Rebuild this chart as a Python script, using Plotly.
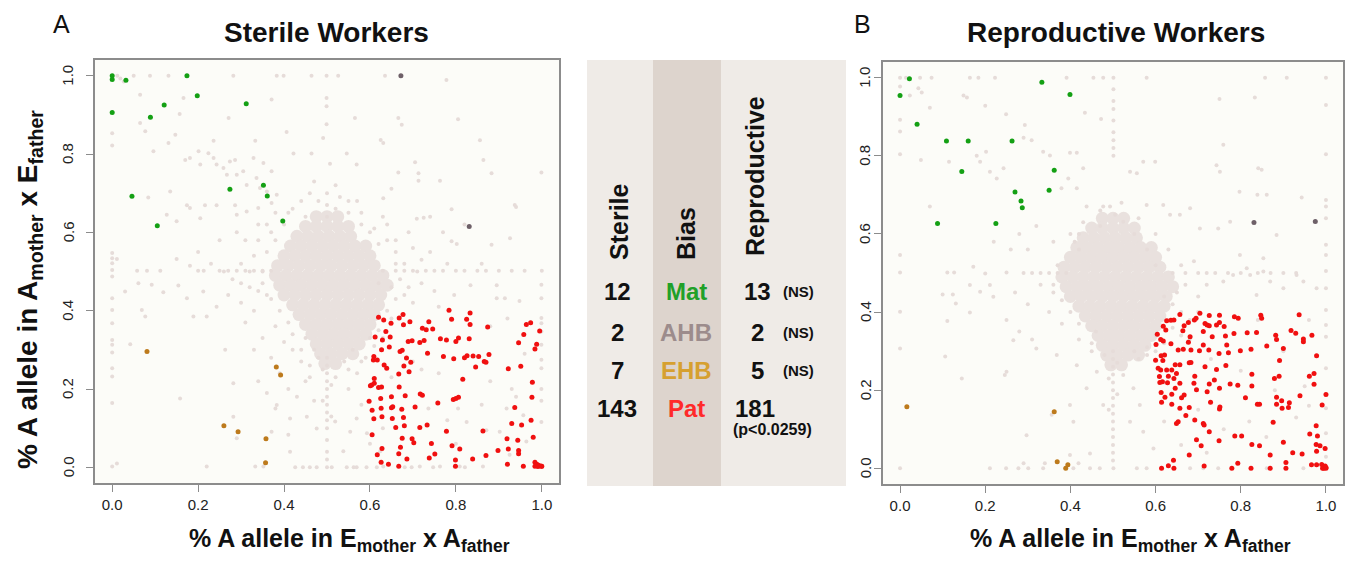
import plotly.graph_objects as go

W, H = 1355, 565

# ---------------- data ----------------
tick_vals = [0.0, 0.2, 0.4, 0.6, 0.8, 1.0]
tick_text = ["0.0", "0.2", "0.4", "0.6", "0.8", "1.0"]

green_a = [(0.0, 1.0), (0.0, 0.99), (0.032, 0.988), (0.174, 1.0), (0.198, 0.949), (0.121, 0.925),
           (0.312, 0.928), (0.089, 0.894), (0.0, 0.906), (0.274, 0.71), (0.352, 0.72), (0.361, 0.693),
           (0.046, 0.692), (0.397, 0.629), (0.105, 0.617)]
ahb_a = [(0.672, 1.0), (0.831, 0.615)]
ehb_a = [(0.081, 0.296), (0.382, 0.256), (0.392, 0.236), (0.26, 0.106), (0.293, 0.091), (0.358, 0.073), (0.357, 0.012)]
pat_a = [(0.62, 0.383), (0.632, 0.376), (0.649, 0.368), (0.668, 0.381), (0.677, 0.39), (0.678, 0.364), (0.693, 0.372),
         (0.784, 0.401), (0.79, 0.378), (0.825, 0.378), (0.833, 0.394), (0.833, 0.365), (0.737, 0.372), (0.722, 0.355),
         (0.731, 0.351), (0.746, 0.353), (0.874, 0.358), (0.964, 0.365), (0.974, 0.369), (0.995, 0.348), (0.958, 0.339),
         (0.612, 0.333), (0.629, 0.325), (0.647, 0.333), (0.637, 0.347), (0.689, 0.321), (0.698, 0.323), (0.716, 0.319),
         (0.726, 0.324), (0.764, 0.328), (0.778, 0.325), (0.8, 0.321), (0.806, 0.33), (0.831, 0.328), (0.946, 0.318),
         (0.988, 0.314), (0.984, 0.302), (0.627, 0.3), (0.645, 0.307), (0.67, 0.296), (0.675, 0.299), (0.734, 0.291),
         (0.771, 0.283), (0.795, 0.277), (0.82, 0.28), (0.826, 0.285), (0.84, 0.284), (0.853, 0.283), (0.866, 0.27),
         (0.87, 0.268), (0.877, 0.288), (0.609, 0.283), (0.608, 0.274), (0.617, 0.274), (0.633, 0.261), (0.639, 0.253),
         (0.679, 0.259), (0.685, 0.279), (0.695, 0.268), (0.667, 0.238), (0.691, 0.244), (0.846, 0.256), (0.922, 0.252),
         (0.951, 0.258), (0.61, 0.227), (0.604, 0.21), (0.601, 0.208), (0.61, 0.215), (0.62, 0.204), (0.627, 0.205),
         (0.668, 0.205), (0.816, 0.225), (0.978, 0.217), (0.598, 0.169), (0.625, 0.176), (0.65, 0.18), (0.682, 0.183),
         (0.717, 0.187), (0.722, 0.184), (0.705, 0.154), (0.758, 0.164), (0.794, 0.173), (0.8, 0.176), (0.806, 0.179),
         (0.977, 0.179), (0.605, 0.146), (0.626, 0.151), (0.65, 0.152), (0.653, 0.155), (0.674, 0.148), (0.937, 0.153),
         (0.609, 0.124), (0.628, 0.129), (0.652, 0.125), (0.678, 0.127), (0.66, 0.102), (0.68, 0.106), (0.716, 0.102),
         (0.733, 0.108), (0.778, 0.092), (0.863, 0.093), (0.93, 0.112), (0.953, 0.108), (0.975, 0.12), (0.605, 0.083),
         (0.698, 0.073), (0.702, 0.063), (0.675, 0.074), (0.743, 0.061), (0.791, 0.055), (0.809, 0.047), (0.919, 0.073),
         (0.944, 0.069), (0.98, 0.077), (0.628, 0.048), (0.671, 0.051), (0.898, 0.043), (0.922, 0.047), (0.946, 0.043),
         (0.946, 0.035), (0.617, 0.032), (0.667, 0.035), (0.751, 0.034), (0.738, 0.024), (0.87, 0.03), (0.839, 0.021),
         (0.799, 0.019), (0.626, 0.013), (0.643, 0.008), (0.667, 0.003), (0.686, 0.021), (0.799, 0.003), (0.92, 0.008),
         (0.957, 0.003), (0.984, 0.013), (0.988, 0.008), (0.991, 0.006), (0.995, 0.004), (0.999, 0.003), (0.984, 0.003),
         (0.991, 0.002), (1.0, 0.003)]

green_b = [(0.022, 0.997), (0.0, 0.954), (0.333, 0.988), (0.399, 0.957), (0.04, 0.881), (0.109, 0.838), (0.16, 0.838),
           (0.263, 0.838), (0.145, 0.76), (0.362, 0.763), (0.35, 0.712), (0.27, 0.707), (0.284, 0.684), (0.287, 0.667),
           (0.088, 0.627), (0.225, 0.627)]
ahb_b = [(0.831, 0.629), (0.975, 0.632)]
ehb_b = [(0.016, 0.158), (0.362, 0.145), (0.369, 0.017), (0.394, 0.009), (0.389, 0.0)]
pat_b = [(0.657, 0.394), (0.677, 0.373), (0.691, 0.38), (0.704, 0.397), (0.695, 0.384), (0.716, 0.371), (0.721, 0.367),
         (0.726, 0.391), (0.75, 0.392), (0.75, 0.373), (0.785, 0.388), (0.794, 0.384), (0.847, 0.392), (0.849, 0.384),
         (0.937, 0.393), (0.626, 0.378), (0.636, 0.379), (0.643, 0.38), (0.618, 0.364), (0.624, 0.354), (0.604, 0.343),
         (0.612, 0.33), (0.618, 0.326), (0.664, 0.352), (0.667, 0.365), (0.681, 0.337), (0.712, 0.35), (0.726, 0.365),
         (0.733, 0.337), (0.743, 0.367), (0.761, 0.363), (0.764, 0.339), (0.784, 0.345), (0.815, 0.347), (0.837, 0.348),
         (0.882, 0.341), (0.884, 0.33), (0.918, 0.353), (0.929, 0.346), (0.947, 0.331), (0.947, 0.324), (0.967, 0.341),
         (0.601, 0.317), (0.636, 0.319), (0.677, 0.323), (0.653, 0.303), (0.683, 0.303), (0.703, 0.301), (0.712, 0.316),
         (0.725, 0.303), (0.749, 0.294), (0.767, 0.316), (0.771, 0.296), (0.799, 0.301), (0.824, 0.305), (0.861, 0.313),
         (0.9, 0.307), (0.613, 0.288), (0.621, 0.29), (0.665, 0.305), (0.6, 0.277), (0.617, 0.276), (0.646, 0.265),
         (0.657, 0.265), (0.679, 0.27), (0.683, 0.271), (0.716, 0.26), (0.743, 0.253), (0.765, 0.263), (0.891, 0.276),
         (0.978, 0.288), (0.606, 0.256), (0.612, 0.252), (0.626, 0.252), (0.638, 0.252), (0.649, 0.243), (0.692, 0.236),
         (0.826, 0.241), (0.609, 0.235), (0.63, 0.236), (0.643, 0.23), (0.657, 0.218), (0.646, 0.205), (0.616, 0.222),
         (0.61, 0.22), (0.628, 0.219), (0.69, 0.218), (0.726, 0.216), (0.738, 0.226), (0.775, 0.216), (0.793, 0.213),
         (0.826, 0.211), (0.879, 0.23), (0.89, 0.236), (0.961, 0.236), (0.972, 0.243), (0.972, 0.215), (0.613, 0.194),
         (0.622, 0.182), (0.638, 0.19), (0.661, 0.181), (0.667, 0.188), (0.696, 0.201), (0.721, 0.196), (0.75, 0.205),
         (0.811, 0.181), (0.884, 0.182), (0.896, 0.173), (0.914, 0.168), (0.939, 0.186), (1.0, 0.189), (0.614, 0.169),
         (0.638, 0.164), (0.657, 0.154), (0.679, 0.156), (0.729, 0.169), (0.75, 0.152), (0.751, 0.157), (0.839, 0.164),
         (0.844, 0.164), (0.884, 0.164), (0.897, 0.154), (0.912, 0.156), (0.991, 0.162), (0.671, 0.135), (0.692, 0.124),
         (0.649, 0.115), (0.653, 0.119), (0.712, 0.115), (0.714, 0.111), (0.876, 0.118), (0.977, 0.109), (0.726, 0.094),
         (0.962, 0.088), (0.786, 0.083), (0.802, 0.083), (0.98, 0.083), (0.696, 0.073), (0.707, 0.058), (0.749, 0.071),
         (0.826, 0.061), (0.844, 0.058), (0.9, 0.067), (0.977, 0.061), (0.986, 0.058), (0.998, 0.051), (0.978, 0.044),
         (0.922, 0.04), (0.944, 0.037), (0.679, 0.034), (0.869, 0.034), (0.642, 0.021), (0.793, 0.013), (0.906, 0.015),
         (0.614, 0.0), (0.63, 0.007), (0.643, 0.0), (0.714, 0.006), (0.779, 0.0), (0.824, 0.0), (0.869, 0.0),
         (0.906, 0.0), (0.966, 0.009), (0.978, 0.009), (0.99, 0.01), (0.995, 0.0), (0.998, 0.006), (1.0, 0.0),
         (0.992, 0.0), (1.0, 0.002)]

# dense central cloud of unbiased genes (same shape in both panels), listed row by row
core = [(0.475, 0.64), (0.5, 0.64), (0.525, 0.64),
        (0.45, 0.615), (0.475, 0.615), (0.5, 0.615), (0.525, 0.615), (0.55, 0.615),
        (0.43, 0.59), (0.455, 0.59), (0.48, 0.59), (0.505, 0.59), (0.53, 0.59), (0.555, 0.59),
        (0.415, 0.565), (0.44, 0.565), (0.465, 0.565), (0.49, 0.565), (0.515, 0.565), (0.54, 0.565), (0.565, 0.565),
        (0.59, 0.565),
        (0.4, 0.54), (0.425, 0.54), (0.45, 0.54), (0.475, 0.54), (0.5, 0.54), (0.525, 0.54), (0.55, 0.54), (0.575, 0.54),
        (0.6, 0.54),
        (0.385, 0.515), (0.41, 0.515), (0.435, 0.515), (0.46, 0.515), (0.485, 0.515), (0.51, 0.515), (0.535, 0.515),
        (0.56, 0.515), (0.585, 0.515), (0.61, 0.515),
        (0.38, 0.49), (0.405, 0.49), (0.43, 0.49), (0.455, 0.49), (0.48, 0.49), (0.505, 0.49), (0.53, 0.49), (0.555, 0.49),
        (0.58, 0.49), (0.605, 0.49), (0.63, 0.49),
        (0.39, 0.465), (0.415, 0.465), (0.44, 0.465), (0.465, 0.465), (0.49, 0.465), (0.515, 0.465), (0.54, 0.465),
        (0.565, 0.465), (0.59, 0.465), (0.615, 0.465), (0.64, 0.465),
        (0.4, 0.44), (0.425, 0.44), (0.45, 0.44), (0.475, 0.44), (0.5, 0.44), (0.525, 0.44), (0.55, 0.44), (0.575, 0.44),
        (0.6, 0.44), (0.625, 0.44),
        (0.42, 0.415), (0.445, 0.415), (0.47, 0.415), (0.495, 0.415), (0.52, 0.415), (0.545, 0.415), (0.57, 0.415),
        (0.595, 0.415), (0.62, 0.415),
        (0.435, 0.39), (0.46, 0.39), (0.485, 0.39), (0.51, 0.39), (0.535, 0.39), (0.56, 0.39), (0.585, 0.39), (0.61, 0.39),
        (0.45, 0.365), (0.475, 0.365), (0.5, 0.365), (0.525, 0.365), (0.55, 0.365), (0.575, 0.365), (0.6, 0.365),
        (0.465, 0.34), (0.49, 0.34), (0.515, 0.34), (0.54, 0.34), (0.565, 0.34), (0.59, 0.34),
        (0.475, 0.315), (0.5, 0.315), (0.525, 0.315), (0.55, 0.315), (0.575, 0.315),
        (0.485, 0.29), (0.51, 0.29), (0.535, 0.29), (0.56, 0.29),
        (0.495, 0.265), (0.52, 0.265)]

grey_a = [(0.0, 1.0), (0.012, 1.0), (0.05, 1.0), (0.088, 1.0), (0.131, 1.0), (0.282, 1.0), (0.383, 1.0), (0.399, 1.0),
          (0.464, 1.0), (0.499, 1.0), (0.526, 1.0), (0.635, 1.0), (0.778, 0.989), (0.019, 0.993), (0.027, 0.985),
          (0.065, 0.951), (0.166, 0.943), (0.371, 0.939), (0.499, 0.943), (0.499, 0.922), (0.157, 0.902), (0.271, 0.892),
          (0.065, 0.879), (0.077, 0.858), (0.0, 0.853), (0.0, 0.822), (0.147, 0.849), (0.131, 0.828), (0.096, 0.807),
          (0.236, 0.834), (0.333, 0.834), (0.406, 0.856), (0.491, 0.841), (0.499, 0.876), (0.565, 0.892), (0.666, 0.892),
          (0.674, 0.875), (0.805, 0.889), (0.856, 0.835), (0.631, 0.828), (0.625, 0.836), (0.422, 0.801), (0.464, 0.801),
          (0.546, 0.801), (0.507, 0.775), (0.569, 0.773), (0.705, 0.779), (0.864, 0.785), (0.883, 0.751), (0.999, 0.753),
          (0.666, 0.753), (0.713, 0.751), (0.713, 0.732), (0.763, 0.732), (0.65, 0.711), (0.631, 0.687), (0.937, 0.67),
          (0.79, 0.659), (0.709, 0.635), (0.725, 0.637), (0.74, 0.64), (0.94, 0.665),
          (0.17, 0.785), (0.181, 0.79), (0.201, 0.807), (0.205, 0.773), (0.224, 0.802), (0.236, 0.79), (0.243, 0.773),
          (0.259, 0.764), (0.274, 0.781), (0.286, 0.785), (0.267, 0.747), (0.29, 0.747), (0.305, 0.756), (0.329, 0.79),
          (0.352, 0.777), (0.371, 0.756), (0.336, 0.739), (0.313, 0.721), (0.344, 0.713), (0.36, 0.704), (0.383, 0.696),
          (0.371, 0.675), (0.174, 0.669), (0.216, 0.669), (0.243, 0.669), (0.286, 0.669), (0.313, 0.653), (0.34, 0.662),
          (0.29, 0.645), (0.205, 0.636), (0.135, 0.704), (0.127, 0.645), (0.084, 0.689), (0.15, 0.628), (0.181, 0.662),
          (0.42, 0.66), (0.45, 0.64), (0.48, 0.68), (0.5, 0.7), (0.52, 0.66), (0.55, 0.65), (0.58, 0.62), (0.6, 0.6),
          (0.62, 0.57), (0.4, 0.62), (0.37, 0.6), (0.34, 0.58), (0.31, 0.58), (0.36, 0.55), (0.53, 0.69), (0.46, 0.7),
          (0.57, 0.68), (0.63, 0.64),
          (0.36, 0.62), (0.38, 0.58), (0.35, 0.47), (0.37, 0.43), (0.39, 0.4), (0.41, 0.37), (0.42, 0.34), (0.44, 0.27),
          (0.46, 0.23), (0.47, 0.3), (0.55, 0.25), (0.58, 0.27), (0.61, 0.31), (0.63, 0.33), (0.65, 0.38), (0.66, 0.43),
          (0.67, 0.48), (0.66, 0.55), (0.64, 0.58), (0.61, 0.61), (0.58, 0.65), (0.55, 0.68), (0.52, 0.72), (0.47, 0.73),
          (0.44, 0.68), (0.41, 0.65), (0.38, 0.65), (0.34, 0.62), (0.33, 0.54), (0.32, 0.5), (0.34, 0.45), (0.3, 0.47),
          (0.69, 0.46), (0.71, 0.5), (0.68, 0.52),
          (0.0, 0.547), (0.0, 0.534), (0.0, 0.521), (0.0, 0.504), (0.0, 0.487), (0.0, 0.432), (0.0, 0.402), (0.0, 0.368),
          (0.0, 0.325), (0.0, 0.313), (0.0, 0.293), (0.0, 0.253), (0.0, 0.232), (0.0, 0.164), (0.0, 0.002),
          (0.011, 0.532), (0.03, 0.449), (0.058, 0.502), (0.081, 0.502), (0.112, 0.502), (0.061, 0.47), (0.092, 0.466),
          (0.119, 0.447), (0.15, 0.532), (0.154, 0.464), (0.181, 0.515), (0.174, 0.432), (0.069, 0.402), (0.077, 0.385),
          (0.042, 0.314), (0.158, 0.176), (0.011, 0.01), (0.22, 0.002), (0.189, 0.385), (0.22, 0.385), (0.212, 0.449),
          (0.243, 0.41), (0.263, 0.3), (0.282, 0.215), (0.282, 0.129), (0.29, 0.074), (0.333, 0.002), (0.352, 0.002),
          (0.371, 0.091), (0.41, 0.083), (0.414, 0.04),
          (0.2, 0.55), (0.23, 0.52), (0.26, 0.5), (0.28, 0.48), (0.3, 0.52), (0.32, 0.46), (0.27, 0.44), (0.3, 0.42),
          (0.33, 0.4), (0.35, 0.5), (0.36, 0.44), (0.25, 0.58), (0.29, 0.6), (0.38, 0.36), (0.35, 0.33), (0.31, 0.37),
          (0.4, 0.32), (0.37, 0.28), (0.33, 0.3), (0.39, 0.24), (0.36, 0.19), (0.41, 0.2), (0.38, 0.15), (0.34, 0.22),
          (0.2, 0.502), (0.213, 0.502), (0.25, 0.502), (0.27, 0.502), (0.29, 0.502), (0.31, 0.502), (0.33, 0.502),
          (0.35, 0.502), (0.37, 0.502), (0.63, 0.502), (0.66, 0.502), (0.68, 0.502), (0.7, 0.502), (0.73, 0.502),
          (0.75, 0.502), (0.77, 0.502), (0.8, 0.502), (0.82, 0.502), (0.85, 0.502), (0.87, 0.502), (0.9, 0.502),
          (0.93, 0.502), (0.96, 0.502), (1.0, 0.502),
          (0.5, 0.28), (0.5, 0.26), (0.5, 0.24), (0.5, 0.22), (0.5, 0.2), (0.5, 0.18), (0.5, 0.16), (0.5, 0.14),
          (0.5, 0.12), (0.5, 0.1), (0.5, 0.07), (0.5, 0.04), (0.5, 0.02), (0.5, 0.0), (0.49, 0.25), (0.51, 0.21),
          (0.49, 0.17), (0.51, 0.13), (0.5, 0.64), (0.5, 0.67),
          (0.426, 0.0), (0.444, 0.0), (0.46, 0.0), (0.476, 0.0), (0.511, 0.0), (0.546, 0.0), (0.562, 0.0), (0.569, 0.0),
          (0.592, 0.0), (0.616, 0.0), (0.681, 0.0), (0.697, 0.0), (0.747, 0.0), (0.821, 0.0),
          (0.79, 0.577), (0.802, 0.57), (0.883, 0.568), (0.926, 0.585), (0.86, 0.52), (0.895, 0.465), (0.914, 0.432),
          (0.948, 0.425), (0.895, 0.432), (0.834, 0.465), (0.796, 0.44), (0.999, 0.466), (0.999, 0.432), (0.999, 0.381),
          (0.999, 0.368), (0.999, 0.347), (0.999, 0.313), (0.999, 0.275), (0.999, 0.253), (0.999, 0.2), (0.999, 0.17),
          (0.999, 0.116),
          (0.75, 0.45), (0.72, 0.47), (0.7, 0.42), (0.68, 0.44), (0.74, 0.55), (0.77, 0.6), (0.82, 0.62), (0.7, 0.56),
          (0.69, 0.6), (0.78, 0.52), (0.72, 0.53), (0.66, 0.52), (0.66, 0.58), (0.64, 0.62), (0.76, 0.41), (0.65, 0.46),
          (0.64, 0.4), (0.62, 0.47),
          (0.736, 0.15), (0.805, 0.15), (0.825, 0.116), (0.871, 0.095), (0.918, 0.15), (0.957, 0.133), (0.902, 0.091),
          (0.964, 0.066), (0.925, 0.032), (0.863, 0.002), (0.809, 0.002), (0.763, 0.002), (0.716, 0.002), (0.631, 0.002),
          (0.93, 0.2), (0.88, 0.22), (0.76, 0.24), (0.7, 0.27), (0.78, 0.12), (0.86, 0.16), (0.94, 0.18), (0.8, 0.06),
          (0.63, 0.1), (0.6, 0.06), (0.65, 0.23), (0.72, 0.25), (0.88, 0.36), (0.92, 0.38), (0.96, 0.29),
          (0.383, 0.159), (0.414, 0.125), (0.453, 0.129), (0.476, 0.099), (0.519, 0.117), (0.554, 0.091), (0.569, 0.125),
          (0.593, 0.087), (0.624, 0.041), (0.538, 0.041), (0.43, 0.18), (0.45, 0.22), (0.46, 0.26), (0.55, 0.2),
          (0.57, 0.24), (0.58, 0.16), (0.54, 0.27), (0.44, 0.3), (0.56, 0.3), (0.59, 0.28), (0.47, 0.17), (0.52, 0.23),
          (0.48, 0.28), (0.42, 0.3), (0.45, 0.33), (0.6, 0.33), (0.62, 0.35)]

grey_b = [(0.0, 1.0), (0.014, 1.0), (0.047, 1.0), (0.074, 1.0), (0.164, 1.0), (0.184, 1.0), (0.223, 1.0), (0.391, 1.0),
          (0.454, 1.0), (0.477, 1.0), (0.501, 1.0), (0.579, 1.0), (0.857, 1.0), (0.908, 1.0), (1.0, 1.0),
          (0.0, 0.977), (0.023, 0.954), (0.043, 0.973), (0.051, 0.962), (0.07, 0.923), (0.149, 0.954), (0.157, 0.949),
          (0.2, 0.928), (0.249, 0.906), (0.434, 0.91), (0.472, 0.894),
          (0.501, 0.97), (0.501, 0.94), (0.501, 0.92), (0.501, 0.89), (0.501, 0.86), (0.501, 0.84), (0.501, 0.82),
          (0.501, 0.8),
          (0.0, 0.892), (0.0, 0.862), (0.0, 0.804), (0.049, 0.789), (0.115, 0.785), (0.07, 0.67),
          (0.202, 0.81), (0.18, 0.8), (0.188, 0.785), (0.211, 0.759), (0.227, 0.742), (0.243, 0.768), (0.29, 0.846),
          (0.309, 0.84), (0.293, 0.879), (0.336, 0.81), (0.352, 0.801), (0.399, 0.808), (0.415, 0.808), (0.43, 0.768),
          (0.395, 0.742), (0.379, 0.717), (0.415, 0.717), (0.438, 0.67), (0.477, 0.67), (0.493, 0.67), (0.505, 0.649),
          (0.524, 0.631), (0.54, 0.759), (0.556, 0.755), (0.571, 0.785), (0.599, 0.785), (0.579, 0.674), (0.618, 0.674),
          (0.634, 0.649), (0.657, 0.649), (0.681, 0.666), (0.704, 0.614), (0.747, 0.614), (0.743, 0.776), (0.751, 0.759),
          (0.759, 0.828), (0.75, 0.945), (0.833, 0.949), (0.841, 0.768), (0.849, 0.764), (0.797, 0.708), (0.839, 0.7),
          (0.861, 0.7), (0.943, 0.693),
          (1.0, 0.93), (1.0, 0.804), (1.0, 0.687), (1.0, 0.67), (1.0, 0.64), (1.0, 0.572), (1.0, 0.546), (1.0, 0.505),
          (1.0, 0.461), (1.0, 0.405), (1.0, 0.367), (1.0, 0.337), (1.0, 0.256), (1.0, 0.154),
          (0.775, 0.631), (0.798, 0.546), (0.853, 0.538), (0.884, 0.597), (0.931, 0.495), (0.947, 0.478), (0.978, 0.461),
          (0.9, 0.461), (0.869, 0.478), (0.837, 0.444), (0.822, 0.495), (0.782, 0.495), (0.759, 0.478), (0.814, 0.512),
          (0.853, 0.504),
          (0.29, 0.5), (0.31, 0.5), (0.33, 0.5), (0.35, 0.5), (0.37, 0.5), (0.39, 0.5), (0.64, 0.5), (0.67, 0.5),
          (0.7, 0.5), (0.72, 0.5), (0.74, 0.5), (0.77, 0.5), (0.8, 0.5), (0.84, 0.5), (0.87, 0.5), (0.9, 0.5), (0.93, 0.5),
          (0.0, 0.546), (0.0, 0.501), (0.0, 0.401), (0.0, 0.307), (0.0, 0.0), (0.1, 0.445), (0.124, 0.445),
          (0.111, 0.377), (0.106, 0.286), (0.131, 0.422), (0.145, 0.23), (0.164, 0.399), (0.164, 0.469), (0.111, 0.501),
          (0.127, 0.501), (0.172, 0.516), (0.2, 0.499), (0.188, 0.452), (0.211, 0.469), (0.219, 0.439), (0.25, 0.501),
          (0.26, 0.56), (0.28, 0.6), (0.3, 0.56), (0.32, 0.62), (0.27, 0.45), (0.3, 0.42), (0.33, 0.47), (0.36, 0.45),
          (0.25, 0.38), (0.28, 0.35), (0.31, 0.33), (0.35, 0.4), (0.38, 0.37), (0.22, 0.58), (0.36, 0.58), (0.4, 0.6),
          (0.42, 0.56),
          (0.62, 0.44), (0.64, 0.42), (0.66, 0.4), (0.63, 0.38), (0.65, 0.45), (0.6, 0.52), (0.58, 0.56), (0.55, 0.6),
          (0.47, 0.62), (0.42, 0.6),
          (0.64, 0.36), (0.66, 0.34), (0.62, 0.32), (0.68, 0.38), (0.7, 0.44), (0.7, 0.4), (0.67, 0.47), (0.69, 0.53),
          (0.72, 0.47), (0.6, 0.3), (0.58, 0.29), (0.55, 0.3), (0.43, 0.63), (0.41, 0.58), (0.37, 0.52), (0.36, 0.47),
          (0.38, 0.43), (0.4, 0.4), (0.42, 0.37), (0.45, 0.32), (0.48, 0.29), (0.47, 0.66), (0.52, 0.68), (0.56, 0.64),
          (0.6, 0.6), (0.63, 0.56), (0.66, 0.52),
          (0.5, 0.3), (0.5, 0.28), (0.5, 0.26), (0.5, 0.24), (0.5, 0.22), (0.5, 0.2), (0.5, 0.18), (0.5, 0.16),
          (0.5, 0.14), (0.5, 0.12), (0.5, 0.1), (0.5, 0.08), (0.5, 0.06), (0.5, 0.04), (0.5, 0.02), (0.51, 0.27),
          (0.49, 0.23), (0.51, 0.19), (0.49, 0.15),
          (0.211, 0.0), (0.249, 0.0), (0.278, 0.0), (0.301, 0.0), (0.336, 0.0), (0.407, 0.0), (0.446, 0.0), (0.469, 0.0),
          (0.501, 0.0), (0.556, 0.0), (0.579, 0.0), (0.681, 0.0), (0.712, 0.0), (0.747, 0.0), (0.861, 0.0), (0.947, 0.0),
          (0.297, 0.085), (0.29, 0.013), (0.34, 0.013), (0.399, 0.034), (0.419, 0.013), (0.446, 0.038), (0.356, 0.137),
          (0.399, 0.162), (0.407, 0.119), (0.438, 0.205), (0.477, 0.162), (0.54, 0.119), (0.571, 0.094), (0.595, 0.051),
          (0.563, 0.162), (0.548, 0.205), (0.524, 0.239), (0.462, 0.247), (0.415, 0.264), (0.368, 0.29), (0.32, 0.307),
          (0.266, 0.328), (0.25, 0.247), (0.246, 0.239), (0.45, 0.3), (0.42, 0.33), (0.56, 0.28), (0.58, 0.31),
          (0.6, 0.34), (0.46, 0.35),
          (0.93, 0.13), (0.96, 0.16), (0.88, 0.2), (0.82, 0.12), (0.76, 0.1), (0.7, 0.15), (0.66, 0.06), (0.72, 0.04),
          (0.86, 0.08), (0.95, 0.21), (0.8, 0.25), (0.73, 0.28), (0.68, 0.33), (0.62, 0.22), (0.62, 0.12), (0.9, 0.3),
          (0.96, 0.38), (0.84, 0.38), (1.0, 0.09), (1.0, 0.03)]

# table between the panels
bias_labels = ["Mat", "AHB", "EHB", "Pat"]
sterile_counts = [12, 2, 7, 143]
repro_counts = [13, 2, 5, 181]
repro_notes = ["(NS)", "(NS)", "(NS)", "(p<0.0259)"]

# ---------------- styling ----------------
FONT = "Liberation Sans, Arial, Helvetica, sans-serif"
C_GREY = "#e6dcd9"
C_CORE = "#e9e1de"
C_GREEN = "#14a014"
C_AHB = "#6e6068"
C_EHB = "#bd7a1c"
C_RED = "#f01010"
bias_colors = ["#20a028", "#9c8c8c", "#d6a030", "#ff2a2a"]


def px(x):
    return x / W


def py(y):
    return 1 - y / H


fig = go.Figure()


def add_points(pts, color, size, xa, ya):
    fig.add_trace(go.Scatter(x=[p[0] for p in pts], y=[p[1] for p in pts], mode="markers",
                             marker=dict(color=color, size=size, line=dict(width=0)),
                             xaxis=xa, yaxis=ya, showlegend=False, hoverinfo="skip"))


for xa, ya, grey, green, ahb, ehb, pat in [("x", "y", grey_a, green_a, ahb_a, ehb_a, pat_a),
                                           ("x2", "y2", grey_b, green_b, ahb_b, ehb_b, pat_b)]:
    add_points(core, C_CORE, 13, xa, ya)
    add_points(grey, C_GREY, 4, xa, ya)
    add_points(pat, C_RED, 5, xa, ya)
    add_points(ehb, C_EHB, 5, xa, ya)
    add_points(ahb, C_AHB, 5, xa, ya)
    add_points(green, C_GREEN, 5, xa, ya)

axis_common = dict(range=[-0.04, 1.04], showgrid=False, zeroline=False, showline=True, mirror=True,
                   linecolor="#8c8c8c", linewidth=1.5, ticks="outside", ticklen=7, tickwidth=1.2,
                   tickcolor="#8c8c8c", tickvals=tick_vals, ticktext=tick_text,
                   tickfont=dict(family=FONT, size=15, color="#222"), fixedrange=True)

fig.update_layout(
    width=W, height=H, autosize=False,
    margin=dict(l=0, r=0, t=0, b=0),
    paper_bgcolor="white", plot_bgcolor="#fcfcf8",
    xaxis=dict(domain=[px(95), px(559)], anchor="y", ticklabelstandoff=0, **axis_common),
    yaxis=dict(domain=[py(483), py(60)], anchor="x", showticklabels=False, **axis_common),
    xaxis2=dict(domain=[px(883), px(1343)], anchor="y2", ticklabelstandoff=0, **axis_common),
    yaxis2=dict(domain=[py(484), py(62)], anchor="x2", showticklabels=False, **axis_common),
)

# table background columns
shapes = [
    dict(type="rect", xref="paper", yref="paper", x0=px(587), x1=px(653), y0=py(486), y1=py(60),
         fillcolor="#efebe7", line=dict(width=0), layer="below"),
    dict(type="rect", xref="paper", yref="paper", x0=px(653), x1=px(721), y0=py(486), y1=py(60),
         fillcolor="#ddd4cd", line=dict(width=0), layer="below"),
    dict(type="rect", xref="paper", yref="paper", x0=px(721), x1=px(846), y0=py(486), y1=py(60),
         fillcolor="#efebe7", line=dict(width=0), layer="below"),
]
fig.update_layout(shapes=shapes)

ann = []


def text(x, y, s, size, color="#111", bold=True, angle=0, xanchor="center", yanchor="middle"):
    ann.append(dict(x=px(x), y=py(y), xref="paper", yref="paper", showarrow=False,
                    text=f"<b>{s}</b>" if bold else s, textangle=angle, xanchor=xanchor, yanchor=yanchor,
                    font=dict(family=FONT, size=size, color=color)))


# rotated y tick labels (R style), positioned on the y scale of each panel
for yref, xpix in [("y", 68), ("y2", 865)]:
    for v, t in zip(tick_vals, tick_text):
        ann.append(dict(x=px(xpix), y=v, xref="paper", yref=yref, showarrow=False, text=t, textangle=-90,
                        xanchor="center", yanchor="middle", font=dict(family=FONT, size=15, color="#222")))

text(61, 24, "A", 25, bold=False)
text(862, 24, "B", 25, bold=False)
text(326, 32, "Sterile Workers", 28)
text(1116, 32, "Reproductive Workers", 28)
text(349, 540, "% A allele in E<sub>mother</sub> x A<sub>father</sub>", 25)
text(1130, 540, "% A allele in E<sub>mother</sub> x A<sub>father</sub>", 25)
text(29, 290, "% A allele in A<sub>mother</sub> x E<sub>father</sub>", 28, angle=-90)

# table headers
text(619, 222, "Sterile", 25, angle=-90)
text(686, 234, "Bias", 25, angle=-90)
text(755, 176, "Reproductive", 25, angle=-90)

row_y = [291, 332, 370, 408]
for i in range(4):
    text(617, row_y[i], str(sterile_counts[i]), 24)
    text(686, row_y[i], bias_labels[i], 24, color=bias_colors[i])
    if i < 3:
        text(757, row_y[i], str(repro_counts[i]), 24)
        text(798, row_y[i], repro_notes[i], 15)
    else:
        text(733, row_y[i], str(repro_counts[i]), 24, xanchor="left")
        text(731, 429, repro_notes[i], 16, xanchor="left")

fig.update_layout(annotations=ann)
fig.write_html("out.html")
